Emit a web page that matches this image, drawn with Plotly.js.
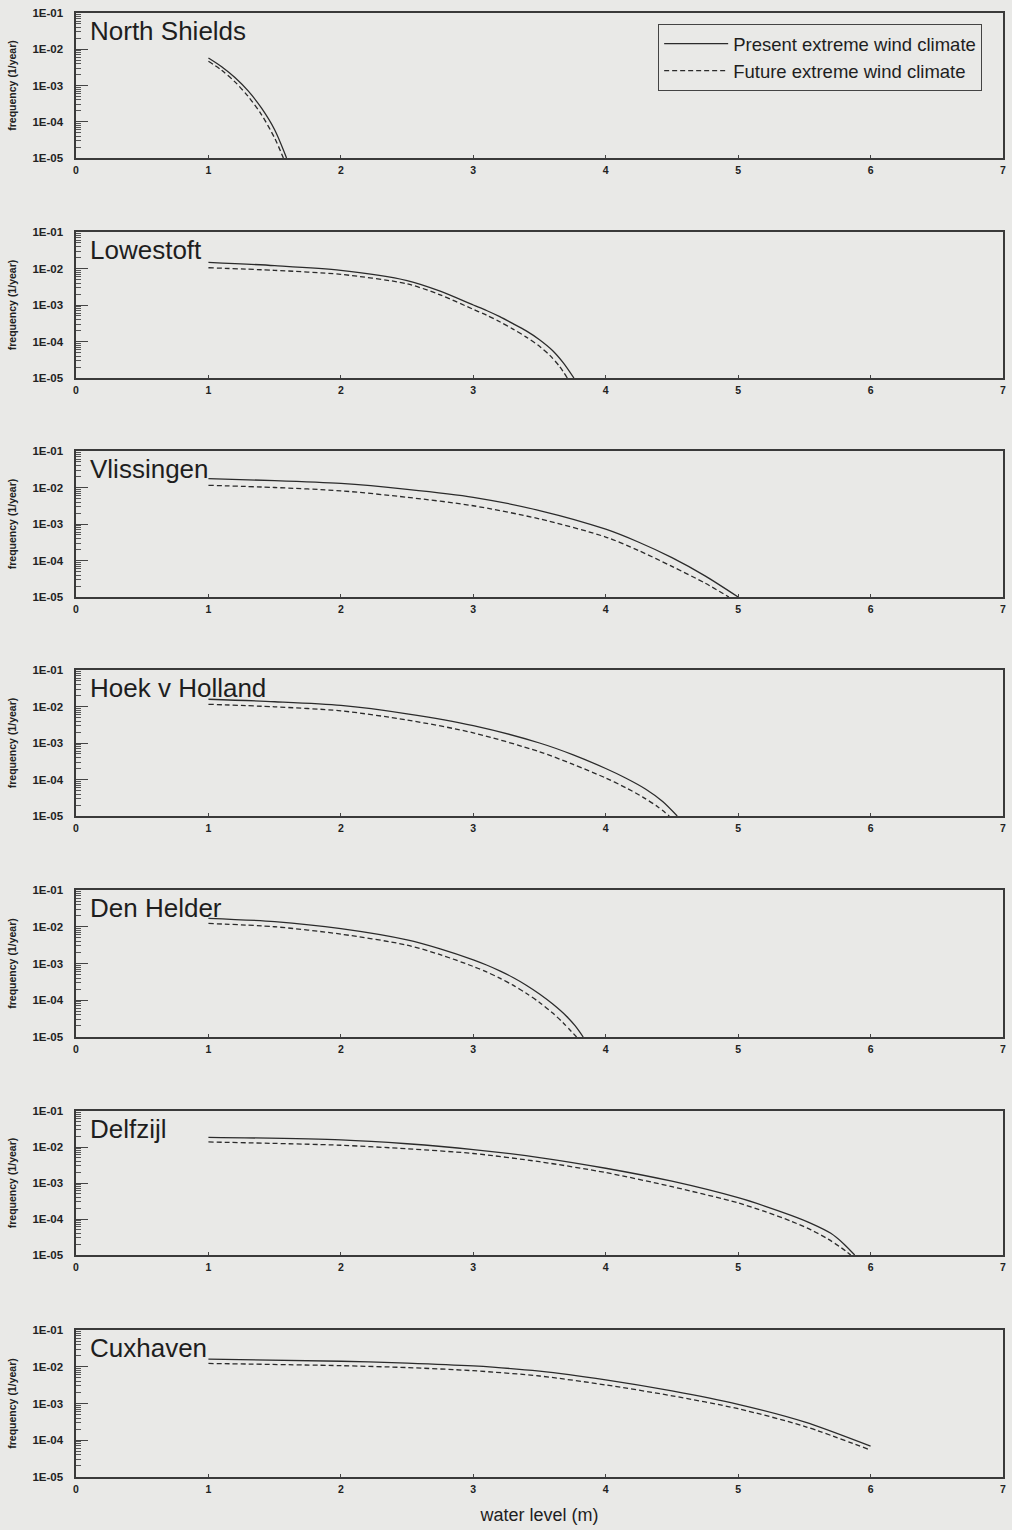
<!DOCTYPE html>
<html><head><meta charset="utf-8">
<script src="https://cdn.plot.ly/plotly-3.0.1.min.js"></script>
<style>html,body{margin:0;padding:0;background:#e9e9e7;} #chart{width:1012px;height:1530px;}</style>
</head><body><div id="chart"></div>
<script>
const stationNames = ["North Shields","Lowestoft","Vlissingen","Hoek v Holland","Den Helder","Delfzijl","Cuxhaven"];
const seriesNames = ["Present extreme wind climate","Future extreme wind climate"];
const xTickValues = [0,1,2,3,4,5,6,7];
const yTickValues = [1e-5,1e-4,1e-3,1e-2,1e-1];
const yTickLabels = ["1E-05","1E-04","1E-03","1E-02","1E-01"];

// North Shields
const northShieldsLevelP = [1.0,1.1,1.2,1.3,1.4,1.5,1.59];
const northShieldsPresent = [5.75e-3,3.31e-3,1.66e-3,7.08e-4,2.4e-4,6.0e-5,1e-5];
const northShieldsLevelF = [1.0,1.1,1.2,1.3,1.4,1.5,1.566];
const northShieldsFuture = [4.68e-3,2.63e-3,1.26e-3,5.0e-4,1.58e-4,3.55e-5,1e-5];
// Lowestoft
const lowestoftLevelP = [1,1.5,2,2.5,2.75,3,3.1,3.2,3.3,3.4,3.5,3.6,3.68,3.76];
const lowestoftPresent = [1.48e-2,1.2e-2,8.9e-3,4.68e-3,2.4e-3,1.0e-3,7.08e-4,4.79e-4,3.09e-4,1.95e-4,1.12e-4,5.6e-5,2.6e-5,1e-5];
const lowestoftLevelF = [1,1.5,2,2.5,2.75,3,3.1,3.2,3.3,3.4,3.5,3.58,3.65,3.71];
const lowestoftFuture = [1.05e-2,8.9e-3,6.9e-3,3.8e-3,1.9e-3,7.6e-4,5.25e-4,3.47e-4,2.19e-4,1.32e-4,7.4e-5,4.1e-5,2.1e-5,1e-5];
// Vlissingen
const vlissingenLevelP = [1,1.5,2,2.5,3,3.5,4,4.25,4.5,4.75,5.0];
const vlissingenPresent = [1.74e-2,1.55e-2,1.29e-2,8.9e-3,5.4e-3,2.34e-3,7.2e-4,3.16e-4,1.2e-4,3.8e-5,1e-5];
const vlissingenLevelF = [1,1.5,2,2.5,3,3.5,4,4.25,4.5,4.75,4.93];
const vlissingenFuture = [1.15e-2,1.0e-2,8.1e-3,5.4e-3,3.16e-3,1.38e-3,4.4e-4,1.86e-4,6.9e-5,2.4e-5,1e-5];
// Hoek v Holland
const hoekLevelP = [1,1.5,2,2.5,3,3.5,3.75,4,4.15,4.3,4.43,4.54];
const hoekPresent = [1.58e-2,1.35e-2,1.07e-2,6.3e-3,3.0e-3,1.0e-3,4.8e-4,2.0e-4,1.1e-4,5.5e-5,2.5e-5,1e-5];
const hoekLevelF = [1,1.5,2,2.5,3,3.5,3.75,4,4.15,4.28,4.39,4.48];
const hoekFuture = [1.15e-2,9.8e-3,7.6e-3,4.27e-3,1.9e-3,5.75e-4,2.63e-4,1.1e-4,6.0e-5,3.3e-5,1.82e-5,1e-5];
// Den Helder
const denHelderLevelP = [1,1.5,2,2.5,2.75,3,3.1,3.2,3.3,3.4,3.5,3.6,3.7,3.77,3.83];
const denHelderPresent = [1.7e-2,1.38e-2,8.9e-3,4.4e-3,2.51e-3,1.26e-3,9.1e-4,6.3e-4,4.17e-4,2.57e-4,1.48e-4,7.9e-5,3.8e-5,2.0e-5,1e-5];
const denHelderLevelF = [1,1.5,2,2.5,2.75,3,3.1,3.2,3.3,3.4,3.5,3.6,3.68,3.78];
const denHelderFuture = [1.23e-2,1.0e-2,6.3e-3,3.16e-3,1.74e-3,8.3e-4,5.9e-4,3.98e-4,2.57e-4,1.55e-4,8.7e-5,4.47e-5,2.4e-5,1e-5];
// Delfzijl
const delfzijlLevelP = [1,2,2.5,3,3.5,4,4.5,5,5.2,5.4,5.55,5.7,5.8,5.88];
const delfzijlPresent = [1.86e-2,1.58e-2,1.23e-2,8.5e-3,5.1e-3,2.57e-3,1.12e-3,3.9e-4,2.29e-4,1.26e-4,7.6e-5,4.0e-5,2.0e-5,1e-5];
const delfzijlLevelF = [1,2,2.5,3,3.5,4,4.5,5,5.2,5.4,5.55,5.68,5.78,5.85];
const delfzijlFuture = [1.38e-2,1.12e-2,8.9e-3,6.6e-3,3.9e-3,1.95e-3,7.9e-4,2.8e-4,1.62e-4,8.7e-5,5.0e-5,2.75e-5,1.58e-5,1e-5];
// Cuxhaven
const cuxhavenLevelP = [1,2,2.5,3,3.5,4,4.5,5,5.5,6];
const cuxhavenPresent = [1.62e-2,1.41e-2,1.26e-2,1.05e-2,7.6e-3,4.4e-3,2.2e-3,9.5e-4,3.16e-4,6.9e-5];
const cuxhavenLevelF = [1,2,2.5,3,3.5,4,4.5,5,5.5,6];
const cuxhavenFuture = [1.23e-2,1.07e-2,9.5e-3,7.8e-3,5.6e-3,3.2e-3,1.62e-3,7.2e-4,2.4e-4,5.4e-5];

const stationSeries = [
  [northShieldsLevelP, northShieldsPresent, northShieldsLevelF, northShieldsFuture],
  [lowestoftLevelP, lowestoftPresent, lowestoftLevelF, lowestoftFuture],
  [vlissingenLevelP, vlissingenPresent, vlissingenLevelF, vlissingenFuture],
  [hoekLevelP, hoekPresent, hoekLevelF, hoekFuture],
  [denHelderLevelP, denHelderPresent, denHelderLevelF, denHelderFuture],
  [delfzijlLevelP, delfzijlPresent, delfzijlLevelF, delfzijlFuture],
  [cuxhavenLevelP, cuxhavenPresent, cuxhavenLevelF, cuxhavenFuture]
];

// layout geometry (pixels)
const H = 1530;
const panelTop = [13, 232, 451, 670, 890, 1111, 1330];
const panelBottom = [158, 378, 597, 816, 1037, 1255, 1477];

const FONT = "Liberation Sans, Arial, sans-serif";
const INK = "#2b2b2b";
const BG = "#e9e9e7";

const traces = [];
const layout = {
  width: 1012, height: H,
  margin: {l: 76, r: 9, t: 0, b: 0},
  paper_bgcolor: BG, plot_bgcolor: BG,
  font: {family: FONT, color: "#1e1e1e"},
  showlegend: true,
  legend: {
    x: 0.628, y: 1 - 24 / H, xanchor: "left", yanchor: "top",
    bgcolor: BG, bordercolor: "#444", borderwidth: 1,
    font: {family: FONT, size: 18.5, color: "#1e1e1e"},
    itemwidth: 64, tracegroupgap: 0
  },
  annotations: []
};

stationNames.forEach((name, i) => {
  const s = i === 0 ? "" : String(i + 1);
  const [xp, yp, xf, yf] = stationSeries[i];
  traces.push({
    x: xp, y: yp, xaxis: "x" + s, yaxis: "y" + s, mode: "lines",
    name: seriesNames[0], legendgroup: "p", showlegend: i === 0,
    line: {color: INK, width: 1.3, shape: "spline", smoothing: 0.8}
  });
  traces.push({
    x: xf, y: yf, xaxis: "x" + s, yaxis: "y" + s, mode: "lines",
    name: seriesNames[1], legendgroup: "f", showlegend: i === 0,
    line: {color: INK, width: 1.3, dash: "5px,3px", shape: "spline", smoothing: 0.8}
  });
  const dom = [1 - panelBottom[i] / H, 1 - panelTop[i] / H];
  layout["xaxis" + s] = {
    domain: [0, 1], anchor: "y" + s, range: [0, 7],
    tickmode: "array", tickvals: xTickValues,
    ticks: "inside", ticklen: 3, tickcolor: "#444",
    showline: true, linecolor: "#3a3a3a", linewidth: 1.6, mirror: true,
    showgrid: false, zeroline: false,
    tickfont: {family: FONT, size: 10.5, weight: "bold", color: "#222"},
    ticklabelstandoff: 2
  };
  if (i === 6) {
    layout["xaxis" + s].title = {text: "water level (m)", font: {family: FONT, size: 18, color: "#1e1e1e"}, standoff: 14};
  }
  layout["yaxis" + s] = {
    domain: dom, anchor: "x" + s, type: "log", range: [-5, -1],
    tickmode: "array", tickvals: yTickValues, ticktext: yTickLabels,
    ticks: "inside", ticklen: 12, tickcolor: "#444", tickwidth: 1,
    minor: {ticks: "inside", ticklen: 5, dtick: "D1", tickcolor: "#555", tickwidth: 1, showgrid: false},
    showline: true, linecolor: "#3a3a3a", linewidth: 1.6, mirror: true,
    showgrid: false, zeroline: false,
    tickfont: {family: FONT, size: 11.5, weight: "bold", color: "#222"},
    ticklabelstandoff: 9,
    title: {text: "frequency (1/year)", font: {family: FONT, size: 10.5, weight: "bold", color: "#222"}, standoff: 14}
  };
  layout.annotations.push({
    xref: "x" + s + " domain", yref: "y" + s + " domain",
    x: 12 / 927, y: 1 - 18 / 145, xanchor: "left", yanchor: "middle",
    text: name, showarrow: false,
    font: {family: FONT, size: 26, color: "#1e1e1e"}
  });
});

Plotly.newPlot("chart", traces, layout, {displayModeBar: false, staticPlot: true});
</script>
</body></html>
